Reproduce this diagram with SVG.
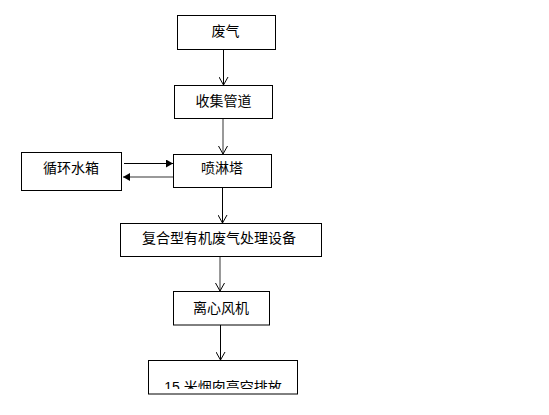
<svg xmlns="http://www.w3.org/2000/svg" width="549" height="415" viewBox="0 0 549 415">
<style>
.box{fill:#fff;stroke:#000;stroke-width:1}
.t{font-family:"Liberation Sans","Noto Sans CJK SC",sans-serif;font-size:14px;fill:#000;text-anchor:middle}
.ln{stroke:#000;stroke-width:1;fill:none}
.g{stroke:#777;stroke-width:1.5}
</style>
<defs>
<marker id="v" markerWidth="10" markerHeight="10" refX="8" refY="5" orient="auto" markerUnits="userSpaceOnUse">
<path d="M0,0.5 L8,5 L0,9.5" fill="none" stroke="#000" stroke-width="1"/>
</marker>
<marker id="f" markerWidth="8" markerHeight="8" refX="7" refY="4" orient="auto" markerUnits="userSpaceOnUse">
<path d="M0,0 L7,4 L0,8 Z" fill="#000"/>
</marker>
<clipPath id="c7"><rect x="148" y="360" width="150" height="29"/></clipPath>
</defs>
<rect width="549" height="415" fill="#fff"/>
<g id="connectors">
<line class="ln" x1="223.5" y1="49" x2="223.5" y2="85" marker-end="url(#v)"/>
<line class="ln g" x1="223" y1="118" x2="223" y2="154" marker-end="url(#v)"/>
<line class="ln" x1="124" y1="163.5" x2="173" y2="163.5" marker-end="url(#f)"/>
<line class="ln g" x1="173" y1="177" x2="123" y2="177" marker-end="url(#f)"/>
<line class="ln" x1="222.5" y1="187" x2="222.5" y2="223" marker-end="url(#v)"/>
<line class="ln g" x1="220" y1="256" x2="220" y2="291" marker-end="url(#v)"/>
<line class="ln" x1="220.5" y1="325" x2="220.5" y2="360" marker-end="url(#v)"/>
</g>
<g id="n1"><rect class="box" x="177.5" y="15.5" width="98" height="34"/><text class="t" x="225.5" y="36">废气</text></g>
<g id="n2"><rect class="box" x="174.5" y="85.5" width="98" height="33"/><text class="t" x="223.5" y="106">收集管道</text></g>
<g id="n3"><rect class="box" x="173.5" y="154.5" width="98" height="33"/><text class="t" x="222" y="173">喷淋塔</text></g>
<g id="n4"><rect class="box" x="21.5" y="152.5" width="100" height="38"/><text class="t" x="71" y="172.5">循环水箱</text></g>
<g id="n5"><rect class="box" x="120.5" y="223.5" width="201" height="33"/><text class="t" x="219" y="242.5">复合型有机废气处理设备</text></g>
<g id="n6"><rect class="box" x="173.5" y="291.5" width="96" height="33.5"/><text class="t" x="221" y="312.5">离心风机</text></g>
<g id="n7"><rect class="box" x="148.5" y="360.5" width="149" height="33.5"/><text class="t" x="223" y="392" clip-path="url(#c7)">15 米烟囱高空排放</text></g>
</svg>
